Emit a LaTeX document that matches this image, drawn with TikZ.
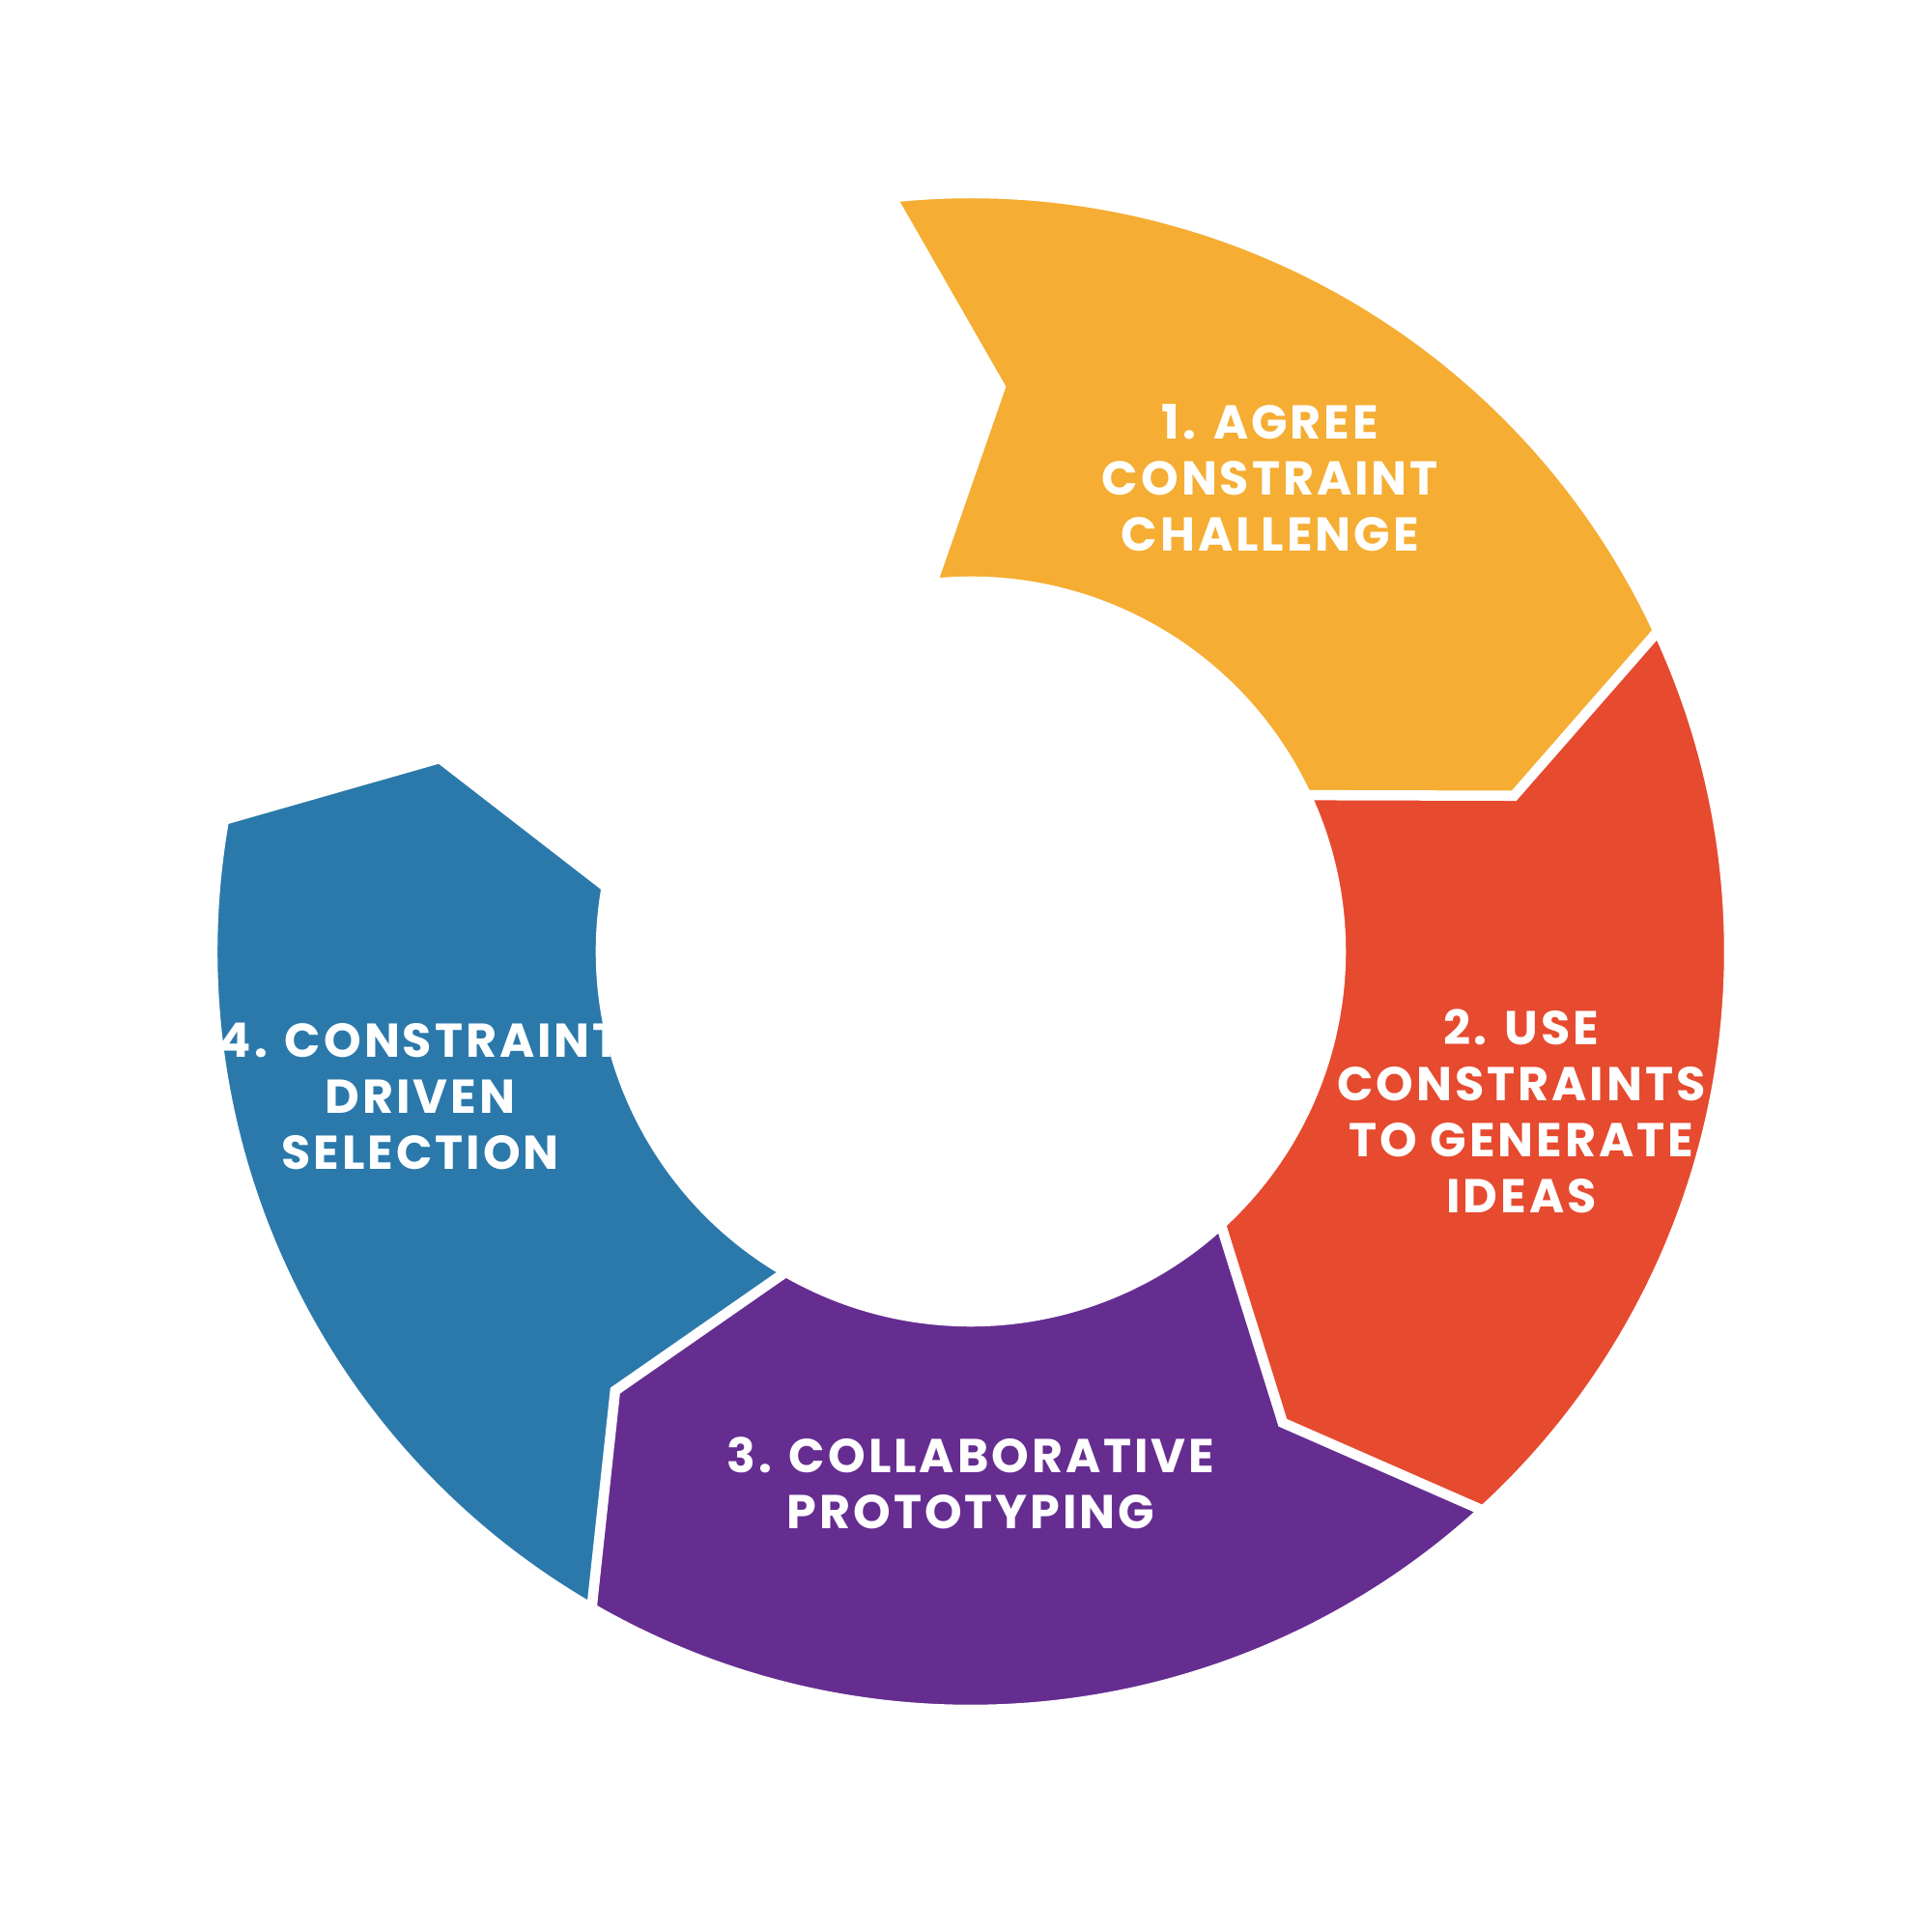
\documentclass[tikz,border=0pt]{standalone}
\usepackage{fontspec}
\setmainfont{Poppins}[LetterSpace=6]
\definecolor{stepone}{HTML}{F5AD33}
\definecolor{steptwo}{HTML}{E64A2F}
\definecolor{stepthree}{HTML}{662D91}
\definecolor{stepfour}{HTML}{2B79AB}
\begin{document}
\begin{tikzpicture}[
				steplabel/.style={text=white, align=center, font=\bfseries\fontsize{14}{16.5}\selectfont}
				]
				\pgfmathsetmacro{\OuterRadius}{7.85}
				\pgfmathsetmacro{\InnerRadius}{3.83}
				\pgfmathsetmacro{\MidRadius}{5.85}
				\useasboundingbox (-10.05,-10.15) rectangle (9.95,9.85);
				% ring segments as arrows
				\foreach \StartAngle/\EndAngle/\StepColor in {96/25/stepone, 25/-47.5/steptwo, -47.5/-120/stepthree, -120/-190/stepfour}{
					\filldraw[fill=\StepColor, draw=white, line width=3pt, line join=miter]
						(\StartAngle:\OuterRadius) arc[start angle=\StartAngle, end angle=\EndAngle, radius=\OuterRadius]
						-- (\EndAngle-10:\MidRadius) -- (\EndAngle:\InnerRadius)
						arc[start angle=\EndAngle, end angle=\StartAngle, radius=\InnerRadius]
						-- (\StartAngle-9:\MidRadius) -- cycle;
				}
				\node[steplabel] (StepOne) at (3.10,4.90) {1. AGREE\\CONSTRAINT\\CHALLENGE};
				\node[steplabel] (StepTwo) at (5.70,-1.65) {2. USE\\CONSTRAINTS\\TO GENERATE\\IDEAS};
				\node[steplabel] (StepThree) at (0,-5.50) {3. COLLABORATIVE\\PROTOTYPING};
				\node[steplabel] (StepFour) at (-5.70,-1.50) {4. CONSTRAINT\\DRIVEN\\SELECTION};
			\end{tikzpicture}
\end{document}
